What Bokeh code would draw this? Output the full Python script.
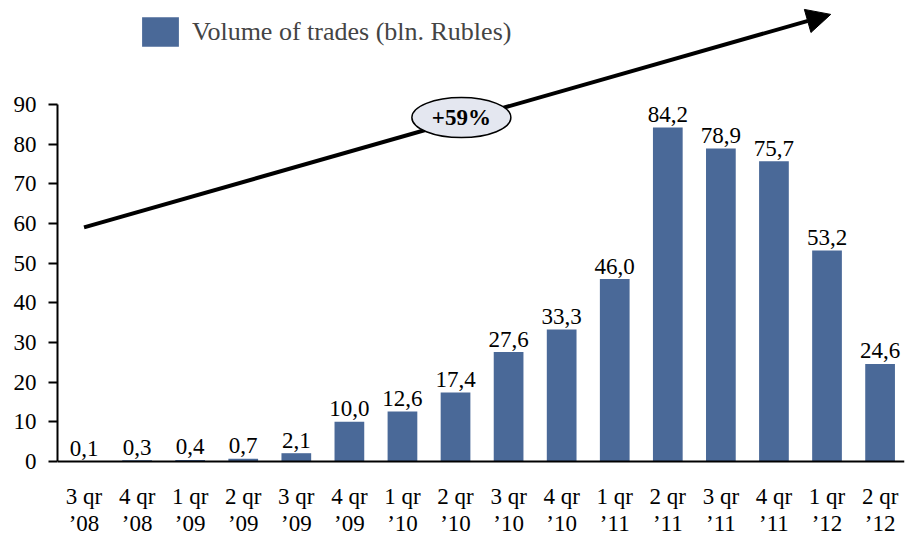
from bokeh.plotting import figure
from bokeh.models import (ColumnDataSource, Range1d, FixedTicker, Arrow, NormalHead,
                          Legend, LegendItem)
from bokeh.core.properties import value
from bokeh.embed import file_html
from bokeh.resources import INLINE

quarters = ["3 qr", "4 qr", "1 qr", "2 qr", "3 qr", "4 qr", "1 qr", "2 qr",
            "3 qr", "4 qr", "1 qr", "2 qr", "3 qr", "4 qr", "1 qr", "2 qr"]
years = ["\u201908", "\u201908", "\u201909", "\u201909", "\u201909", "\u201909", "\u201910", "\u201910",
         "\u201910", "\u201910", "\u201911", "\u201911", "\u201911", "\u201911", "\u201912", "\u201912"]
volumes = [0.1, 0.3, 0.4, 0.7, 2.1, 10.0, 12.6, 17.4, 27.6, 33.3, 46.0, 84.2, 78.9, 75.7, 53.2, 24.6]
y_ticks = [0, 10, 20, 30, 40, 50, 60, 70, 80, 90]
series_name = "Volume of trades (bln. Rubles)"
growth_label = "+59%"
# trend arrow (category index, value)
arrow_start = (0.0, 59.0)
arrow_end = (14.07, 112.7)
badge_pos = (7.11, 86.7)

FONT = "Liberation Serif"
BAR = "#4A6998"

x = list(range(len(volumes)))
labels = [f"{v:.1f}".replace(".", ",") for v in volumes]
src = ColumnDataSource(dict(x=x, v=volumes, lab=labels))

p = figure(width=906, height=540, output_backend="svg", toolbar_location=None,
           x_range=Range1d(-0.5, 15.46), y_range=Range1d(-19.9, 116.2),
           min_border_left=57, min_border_right=2, min_border_top=0, min_border_bottom=0)
p.outline_line_color = None
p.xgrid.visible = False
p.ygrid.visible = False
p.background_fill_color = "white"

r = p.vbar(x="x", top="v", width=0.56, source=src, fill_color=BAR, line_color=None)

p.text(x="x", y="v", text="lab", source=src, y_offset=-13, text_align="center",
       text_baseline="alphabetic", text_font=value(FONT), text_font_size="23px",
       text_color="black")

# axes
p.yaxis.ticker = FixedTicker(ticks=y_ticks)
p.yaxis.bounds = (0, 90)
p.yaxis.major_tick_out = 9
p.yaxis.major_tick_in = 0
p.yaxis.minor_tick_line_color = None
p.yaxis.axis_line_width = 2
p.yaxis.major_tick_line_width = 2
p.yaxis.major_label_text_font = FONT
p.yaxis.major_label_text_font_size = "23px"
p.yaxis.major_label_text_color = "black"
p.yaxis.major_label_standoff = 12

p.xaxis.fixed_location = 0
p.xaxis.ticker = FixedTicker(ticks=x)
p.xaxis.major_label_overrides = {i: f"{q}\n{y}" for i, (q, y) in enumerate(zip(quarters, years))}
p.xaxis.major_tick_line_color = None
p.xaxis.minor_tick_line_color = None
p.xaxis.axis_line_width = 2
p.xaxis.major_label_text_font = FONT
p.xaxis.major_label_text_font_size = "23px"
p.xaxis.major_label_text_line_height = 1.1
p.xaxis.major_label_text_color = "black"
p.xaxis.major_label_standoff = 16

# arrow (below the badge)
p.add_layout(Arrow(end=NormalHead(size=24, fill_color="black", line_color="black"),
                   x_start=arrow_start[0], y_start=arrow_start[1],
                   x_end=arrow_end[0], y_end=arrow_end[1], line_width=4, line_color="black",
                   level="underlay"))

# badge
p.ellipse(x=[badge_pos[0]], y=[badge_pos[1]], width=99, height=40,
          width_units="screen", height_units="screen",
          fill_color="#E4E7F0", line_color="black", line_width=1.5)
p.text(x=[badge_pos[0]], y=[badge_pos[1]], text=[growth_label], text_align="center",
       text_baseline="middle", text_font=value(FONT), text_font_size="23px",
       text_font_style="bold", text_color="black")

legend = Legend(items=[LegendItem(label=series_name, renderers=[r])],
                location=(80, 490), glyph_width=46, glyph_height=37,
                label_text_font=FONT, label_text_font_size="26px", label_standoff=9,
                padding=0, margin=0, border_line_color=None, background_fill_alpha=0)
p.add_layout(legend)

open("out.html", "w").write(file_html(p, INLINE))
